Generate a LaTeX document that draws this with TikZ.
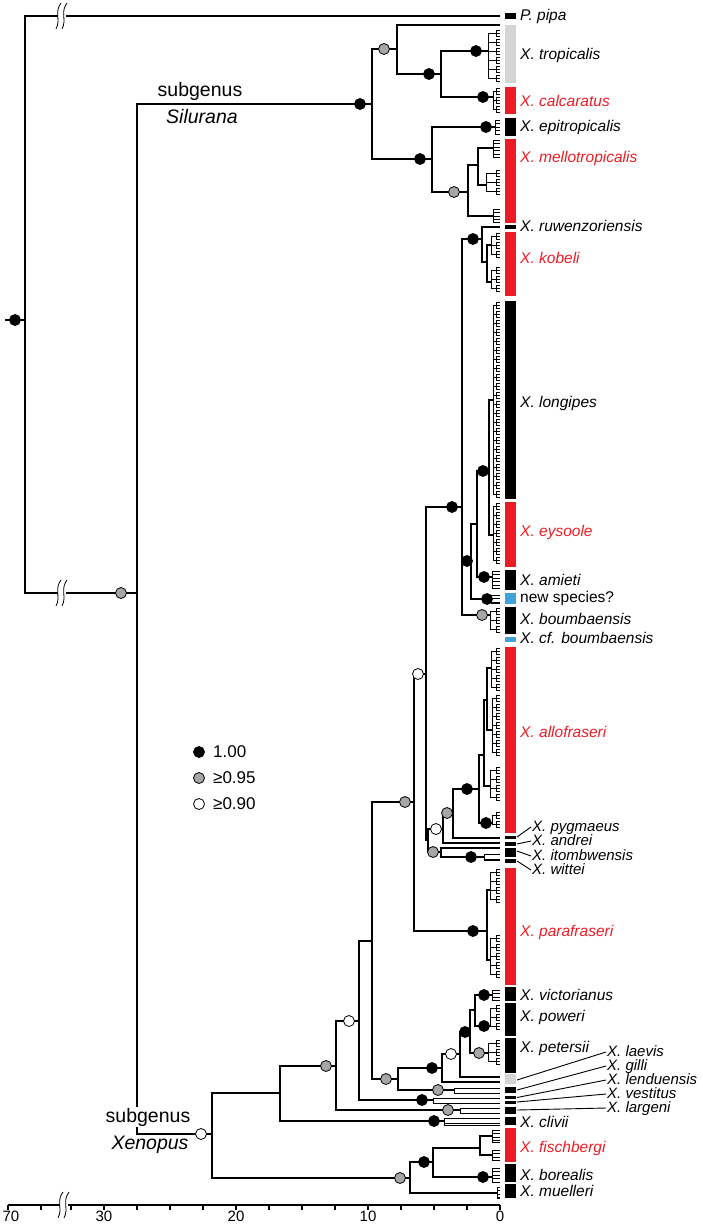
\documentclass[tikz,border=0pt]{standalone}
\usepackage{fontspec}
\setmainfont{Liberation Sans}
\definecolor{xred}{HTML}{ED1C24}
\definecolor{xblue}{HTML}{3FA2DB}
\definecolor{xgray}{HTML}{D4D4D4}
\definecolor{ppgray}{HTML}{A6A6A6}

% comb of terminal samples: [step]{x}{top}{bottom}
\newcommand{\comb}[4][3.5]{%
  \pgfmathsetmacro{\combnext}{#3+#1}%
  \draw[tip] (#2,#3) -- (#2,#4);
  \foreach \t in {#3,\combnext,...,#4} {\draw[tip] (#2,\t) -- (500,\t);}
  \draw[tip] (#2,#4) -- (500,#4);
}
% larger clade: small triplets hung on one stem: {x}{top}{bottom}
\newcommand{\bush}[3]{%
  \pgfmathsetmacro{\bushA}{#2+3}%
  \pgfmathsetmacro{\bushB}{#2+12}%
  \pgfmathsetmacro{\bushL}{\bushA+9*floor((#3-3-\bushA)/9)}%
  \draw[tip] (#1,\bushA) -- (#1,\bushL);
  \foreach \g in {\bushA,\bushB,...,\bushL} {
    \draw[tip] (#1,\g) -- (500,\g) (496,\g-3) -- (496,\g+3)
      (496,\g-3) -- (500,\g-3) (496,\g+3) -- (500,\g+3);
  }
}
% break mark on a long branch
\newcommand{\gapmark}[2]{%
  \fill[white] (#1-4,#2-4) rectangle (#1+4,#2+4);
  \draw[tip] (#1-1,#2-13) .. controls (#1-8,#2-4) and (#1-1,#2+4) .. (#1-6,#2+13);
  \draw[tip] (#1+5,#2-13) .. controls (#1-2,#2-4) and (#1+5,#2+4) .. (#1,#2+13);
}

\begin{document}
\begin{tikzpicture}[x=1pt, y=-1pt,
    br/.style={line width=1.4pt},
    tip/.style={line width=0.8pt},
    pp/.style={circle, draw=black, line width=0.8pt, minimum size=11pt, inner sep=0pt},
    pp1/.style={pp, fill=black},
    pp95/.style={pp, fill=ppgray},
    pp90/.style={pp, fill=white},
    lab/.style={anchor=west, inner sep=0pt, text height=11pt, text depth=3pt,
                font=\fontsize{15.5}{18}\selectfont\itshape},
    labs/.style={lab, text height=9pt, text depth=1pt,
                font=\fontsize{15}{18}\selectfont\itshape},
    labup/.style={lab, font=\fontsize{15.5}{18}\selectfont},
    sub/.style={inner sep=1pt, font=\fontsize{19.5}{22}\selectfont},
    leg/.style={anchor=west, inner sep=0pt, font=\fontsize{17}{20}\selectfont},
    lead/.style={line width=0.9pt},
    ticklab/.style={inner sep=0pt, font=\fontsize{15}{18}\selectfont}
  ]
  \useasboundingbox (0,0) rectangle (702,1224);

  % tree nodes
  \foreach \n/\x/\y in {rootin/5/320, root/25/320, pipa/500/16, subg/137/593,
      sil/372/104, xen/212/1134,
      s1/397/49, tropA/500/25, s2/441/74, trop/488/51, calc/493/97,
      s3/432/159, epit/495/127, s4/468/192, m1/478/165, m1a/493/148,
      m1b/486/185, m2/493/216,
      x1/280/1093, x2/336/1066, cliv/444/1121, x3/359/1021, larg/460/1110,
      x4/372/941, lenv/433/1100, x5/414/802, x6/398/1079, x7/442/1068,
      gill/454/1090, x8/460/1054, laevA/500/1077, laevB/500/1082,
      x9/470/1032, x10/475/1010, vict/492/995, pow/490/1026, pet/488/1053,
      x11/426/674, para/487/931, pa1/490/890, pa2/490/960,
      cen/462/507, x13/428/840, x14/443/829, x15/441/852, x16/453/813,
      andr/500/843, allo/479/789, al1/484/755, al2/487/700, alA/491/668,
      alB/492/730, alC/490/786, alD/492/823, pyg/500/838, itom/500/848,
      witt/484/857, kob/482/239, ruw/500/227, k2/487/262, kA/491/245,
      kB/491/282, n471/471/561, n477/477/524, amie/492/577, nsp/491/599,
      boum/490/615, leys/489/471, long/493/400, eys/493/535,
      xl/410/1178, xf/433/1162, fis/480/1148, fa/492/1136, fb/492/1155,
      bor/492/1177, mue/497/1193}
    \coordinate (\n) at (\x,\y);

  % branches
  \draw[br] (rootin) -- (root);
  \foreach \p/\c in {root/pipa, root/subg, subg/sil, subg/xen,
      sil/s1, sil/s3, s1/tropA, s1/s2, s2/trop, s2/calc, s3/epit, s3/s4,
      s4/m1, s4/m2, m1/m1a, m1/m1b,
      xen/x1, xen/xl, x1/x2, x1/cliv, x2/x3, x2/larg, x3/x4, x3/lenv,
      x4/x5, x4/x6, x5/x11, x5/para, para/pa1, para/pa2, x6/x7, x6/gill,
      x7/x8, x7/laevB, x8/x9, x8/laevA, x9/x10, x9/pet, x10/vict, x10/pow,
      x11/cen, x11/x13, x13/x14, x13/x15, x14/x16, x14/andr, x16/allo,
      x16/pyg, allo/al1, allo/alD, al1/al2, al1/alC, al2/alA, al2/alB,
      x15/itom, x15/witt,
      cen/kob, cen/n471, cen/boum, kob/ruw, kob/k2, k2/kA, k2/kB,
      n471/n477, n471/nsp, n477/leys, n477/amie, leys/long, leys/eys,
      xl/xf, xl/mue, xf/fis, xf/bor, fis/fa, fis/fb}
    \draw[br] (\p) |- (\c);

  % terminal samples
  \foreach \x/\ya/\yb in {488/30/82, 493/88/113, 486/170/200, 491/233/258,
      491/267/295, 493/302/498, 493/503/566, 490/608/640, 491/648/690,
      492/695/762, 490/767/808, 492/812/832, 490/869/910, 490/935/984,
      490/1005/1035, 488/1040/1069}
    {\bush{\x}{\ya}{\yb}}
  \foreach \x/\ya/\yb in {495/120/134, 493/140/157, 493/209/222,
      492/571/588, 491/595/603, 492/990/1000, 492/1130/1142,
      492/1150/1160, 492/1168/1182, 497/1187/1198}
    {\comb{\x}{\ya}{\yb}}
  \foreach \x/\ya/\yb in {484/854/860, 454/1088/1093, 433/1098/1103,
      460/1108/1113, 444/1118/1125}
    {\comb[5]{\x}{\ya}{\yb}}

  \gapmark{62}{16}
  \gapmark{62}{593}

  % posterior probabilities
  \foreach \x/\y/\s [count=\i] in {15/320/pp1, 360/104/pp1, 429/74/pp1,
      476/51/pp1, 483/97/pp1, 420/159/pp1, 486/127/pp1, 452/507/pp1,
      473/239/pp1, 467/561/pp1, 483/471/pp1, 484/577/pp1, 487/599/pp1,
      467/789/pp1, 486/823/pp1, 471/857/pp1, 473/931/pp1, 434/1121/pp1,
      422/1100/pp1, 432/1068/pp1, 465/1032/pp1, 484/995/pp1, 484/1026/pp1,
      424/1162/pp1, 483/1177/pp1,
      121/593/pp95, 384/49/pp95, 454/192/pp95, 405/802/pp95, 447/813/pp95,
      433/852/pp95, 326/1066/pp95, 448/1110/pp95, 386/1079/pp95,
      438/1090/pp95, 479/1053/pp95, 482/615/pp95, 400/1178/pp95,
      201/1134/pp90, 418/674/pp90, 436/829/pp90, 349/1021/pp90,
      451/1054/pp90}
    \node[\s] (pp\i) at (\x,\y) {};

  % species bars
  \foreach \ya/\yb/\c in {13/19/black, 25/83/xgray, 87/114/xred,
      118/136/black, 139/223/xred, 225/229/black, 232/296/xred,
      301/499/black, 502/567/xred, 570/590/black, 593/604/xblue,
      607/634/black, 637/642/xblue, 647/833/xred, 836/839/black,
      842/846/black, 848/857/black, 859/863/black, 868/985/xred,
      987/1001/black, 1003/1036/black, 1038/1073/black, 1074/1084/xgray,
      1087/1093/black, 1096/1099/black, 1101/1104/black, 1107/1114/black,
      1117/1125/black, 1128/1162/xred, 1164/1182/black, 1184/1198/black}
    \fill[\c] (505,\ya) rectangle (516,\yb);

  % species names
  \node[lab] (l-pipa) at (520,16) {P. pipa};
  \node[lab] (l-trop) at (520,55) {X. tropicalis};
  \node[lab, xred] (l-calc) at (520,102) {X. calcaratus};
  \node[lab] (l-epit) at (520,127) {X. epitropicalis};
  \node[lab, xred] (l-mello) at (520,158) {X. mellotropicalis};
  \node[lab] (l-ruw) at (520,227) {X. ruwenzoriensis};
  \node[lab, xred] (l-kob) at (520,259) {X. kobeli};
  \node[lab] (l-long) at (520,403) {X. longipes};
  \node[lab, xred] (l-eys) at (520,532) {X. eysoole};
  \node[lab] (l-amie) at (520,581) {X. amieti};
  \node[labup] (l-nsp) at (520,598) {new species?};
  \node[lab] (l-boum) at (520,620) {X. boumbaensis};
  \node[lab] (l-cfb) at (520,639) {X. cf. boumbaensis};
  \node[lab, xred] (l-allo) at (520,733) {X. allofraseri};
  \node[labs] (l-pyg) at (532,827) {X. pygmaeus};
  \node[labs] (l-andr) at (532,841) {X. andrei};
  \node[labs] (l-itom) at (532,856) {X. itombwensis};
  \node[labs] (l-witt) at (532,870) {X. wittei};
  \node[lab, xred] (l-para) at (520,932) {X. parafraseri};
  \node[lab] (l-vict) at (520,996) {X. victorianus};
  \node[lab] (l-pow) at (520,1017) {X. poweri};
  \node[lab] (l-pet) at (520,1048) {X. petersii};
  \node[labs] (l-laev) at (607,1052) {X. laevis};
  \node[labs] (l-gill) at (607,1066) {X. gilli};
  \node[labs] (l-lend) at (607,1080) {X. lenduensis};
  \node[labs] (l-vest) at (607,1094) {X. vestitus};
  \node[labs] (l-larg) at (607,1108) {X. largeni};
  \node[lab] (l-cliv) at (520,1123) {X. clivii};
  \node[lab, xred] (l-fis) at (520,1148) {X. fischbergi};
  \node[lab] (l-bor) at (520,1176) {X. borealis};
  \node[lab] (l-mue) at (520,1192) {X. muelleri};

  % leader lines
  \foreach \n/\y in {pyg/837, andr/844, itom/851, witt/861,
      laev/1080, gill/1090, lend/1097.5, vest/1102, larg/1110} {
    \coordinate (b-\n) at (517,\y);
    \draw[lead] (b-\n) -- ([xshift=-1pt]l-\n.west);
  }

  % subgenera
  \node[sub] (t-sil1) at (200,91) {subgenus};
  \node[sub, font=\fontsize{19.5}{22}\selectfont\itshape] (t-sil2) at (202,117) {Silurana};
  \node[sub, fill=white] (t-xen1) at (148,1117) {subgenus};
  \node[sub, font=\fontsize{19.5}{22}\selectfont\itshape] (t-xen2) at (150,1145) {Xenopus};

  % legend
  \node[pp1] (k1) at (199,752) {};
  \node[pp95] (k2) at (199,778) {};
  \node[pp90] (k3) at (199,804) {};
  \node[leg] (g1) at (213,752) {1.00};
  \node[leg] (g2) at (213,778) {≥0.95};
  \node[leg] (g3) at (213,804) {≥0.90};

  % time axis
  \draw[br] (8,1205) -- (500,1205);
  \foreach \t in {0,2.5,...,32.5}
    \draw[br] (500-13.2*\t,1205) -- ++(0,5);
  \draw[br] (8,1205) -- ++(0,5);
  \draw[br] (41,1205) -- ++(0,5);
  \gapmark{64}{1205}
  \node[ticklab] (a70) at (11,1216.5) {70};
  \node[ticklab] (a30) at (104,1216.5) {30};
  \node[ticklab] (a20) at (236,1216.5) {20};
  \node[ticklab] (a10) at (368,1216.5) {10};
  \node[ticklab] (a0) at (500,1216.5) {0};
\end{tikzpicture}
\end{document}
